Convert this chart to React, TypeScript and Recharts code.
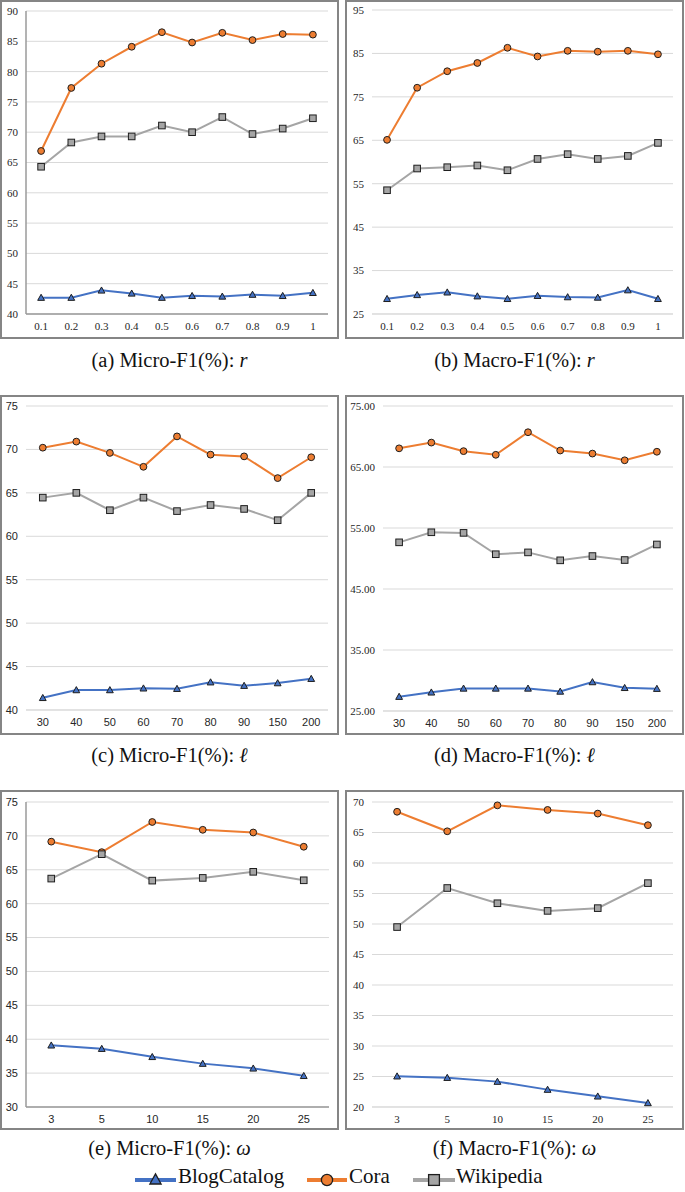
import React from 'react';
import { LineChart, Line, XAxis, YAxis, CartesianGrid } from 'recharts';

// ---------- categories ----------
const rCats = ['0.1', '0.2', '0.3', '0.4', '0.5', '0.6', '0.7', '0.8', '0.9', '1'];
const lCats = ['30', '40', '50', '60', '70', '80', '90', '150', '200'];
const wCats = ['3', '5', '10', '15', '20', '25'];

// ---------- series values ----------
const microR_Blog = [42.7, 42.7, 43.9, 43.4, 42.7, 43.0, 42.9, 43.2, 43.0, 43.5];
const microR_Cora = [66.9, 77.3, 81.3, 84.1, 86.5, 84.8, 86.4, 85.2, 86.2, 86.1];
const microR_Wiki = [64.3, 68.3, 69.3, 69.3, 71.1, 70.0, 72.5, 69.7, 70.6, 72.3];

const macroR_Blog = [28.5, 29.4, 30.0, 29.1, 28.5, 29.2, 28.9, 28.8, 30.5, 28.5];
const macroR_Cora = [65.1, 77.1, 80.9, 82.8, 86.3, 84.3, 85.6, 85.4, 85.6, 84.8];
const macroR_Wiki = [53.5, 58.5, 58.8, 59.2, 58.1, 60.7, 61.8, 60.7, 61.4, 64.4];

const microL_Blog = [41.4, 42.3, 42.3, 42.5, 42.45, 43.2, 42.8, 43.1, 43.6];
const microL_Cora = [70.2, 70.9, 69.6, 68.0, 71.5, 69.4, 69.2, 66.7, 69.1];
const microL_Wiki = [64.45, 65.0, 63.0, 64.45, 62.9, 63.6, 63.15, 61.85, 65.0];

const macroL_Blog = [27.35, 28.06, 28.7, 28.7, 28.7, 28.2, 29.75, 28.8, 28.66];
const macroL_Cora = [68.06, 69.0, 67.6, 67.0, 70.7, 67.7, 67.2, 66.1, 67.5];
const macroL_Wiki = [52.65, 54.3, 54.2, 50.7, 51.0, 49.7, 50.4, 49.75, 52.3];

const microW_Blog = [39.1, 38.6, 37.4, 36.4, 35.7, 34.6];
const microW_Cora = [69.15, 67.6, 72.05, 70.9, 70.5, 68.4];
const microW_Wiki = [63.7, 67.3, 63.4, 63.8, 64.7, 63.45];

const macroW_Blog = [25.04, 24.8, 24.16, 22.85, 21.75, 20.66];
const macroW_Cora = [68.4, 65.2, 69.45, 68.7, 68.1, 66.2];
const macroW_Wiki = [49.5, 55.9, 53.4, 52.15, 52.6, 56.7];

// ---------- tick labels ----------
const ticksA = [40, 45, 50, 55, 60, 65, 70, 75, 80, 85, 90];
const ticksB = [25, 35, 45, 55, 65, 75, 85, 95];
const ticksC = [40, 45, 50, 55, 60, 65, 70, 75];
const ticksD = [25, 35, 45, 55, 65, 75];
const ticksE = [30, 35, 40, 45, 50, 55, 60, 65, 70, 75];
const ticksF = [20, 25, 30, 35, 40, 45, 50, 55, 60, 65, 70];

const seriesNames = ['BlogCatalog', 'Cora', 'Wikipedia'];

const BLUE = '#4472C4';
const ORANGE = '#ED7D31';
const GRAY = '#A5A5A5';
const MARK_STROKE = '#1e1e1e';
const SERIF = "'Liberation Serif', 'Times New Roman', serif";
const SANS = "'Liberation Sans', Arial, sans-serif";

const buildRows = (cats: string[], blog: number[], cora: number[], wiki: number[]) =>
  cats.map((c, i) => ({ x: c, blog: blog[i], cora: cora[i], wiki: wiki[i] }));

const Tri = ({ cx, cy, s = 3.4, sw = 1 }: any) => (
  <path
    d={`M${cx},${cy - s} L${cx + s},${cy + s * 0.8} L${cx - s},${cy + s * 0.8} Z`}
    fill={BLUE}
    stroke={MARK_STROKE}
    strokeWidth={sw}
  />
);
const Circ = ({ cx, cy, r = 3.4, sw = 1 }: any) => (
  <circle cx={cx} cy={cy} r={r} fill={ORANGE} stroke={MARK_STROKE} strokeWidth={sw} />
);
const Sq = ({ cx, cy, s = 3.3, sw = 1 }: any) => (
  <rect x={cx - s} y={cy - s} width={s * 2} height={s * 2} fill={GRAY} stroke={MARK_STROKE} strokeWidth={sw} />
);

type Box = { x: number; y: number; w: number; h: number };
type Plot = { l: number; t: number; r: number; b: number };

const XH = 22;

const Panel = ({
  box,
  plot,
  cats,
  blog,
  cora,
  wiki,
  ticks,
  fmt,
  yFont,
  xFont,
  axis,
  caption,
  capSym,
  capTop,
}: {
  box: Box;
  plot: Plot;
  cats: string[];
  blog: number[];
  cora: number[];
  wiki: number[];
  ticks: number[];
  fmt?: (v: number) => string;
  yFont: string;
  xFont: string;
  axis: boolean;
  caption: string;
  capSym: string;
  capTop: number;
}) => {
  const rows = buildRows(cats, blog, cora, wiki);
  const plotW = plot.r - plot.l;
  const pad = plotW / cats.length / 2;
  const margin = {
    top: plot.t - box.y,
    right: box.x + box.w - plot.r,
    left: 0,
    bottom: box.y + box.h - plot.b - XH,
  };
  const axisColor = axis ? '#9a9a9a' : '#d9d9d9';
  return (
    <>
      <div
        style={{
          position: 'absolute',
          left: box.x,
          top: box.y,
          width: box.w,
          height: box.h,
          boxSizing: 'border-box',
          border: '2px solid #858585',
        }}
      />
      <div style={{ position: 'absolute', left: box.x, top: box.y, fontFamily: yFont }}>
        <LineChart width={box.w} height={box.h} data={rows} margin={margin}>
          <CartesianGrid vertical={false} stroke="#d9d9d9" strokeWidth={1} />
          <XAxis
            dataKey="x"
            type="category"
            padding={{ left: pad, right: pad }}
            tickLine={false}
            axisLine={{ stroke: axisColor, strokeWidth: axis ? 1.5 : 1 }}
            interval={0}
            height={XH}
            tick={{ fontSize: 11, fill: '#262626', style: { fontFamily: xFont } }}
          />
          <YAxis
            type="number"
            domain={[ticks[0], ticks[ticks.length - 1]]}
            ticks={ticks}
            interval={0}
            width={plot.l - box.x}
            tickLine={false}
            axisLine={axis ? { stroke: axisColor, strokeWidth: 1.5 } : false}
            tickFormatter={fmt}
            tick={{ fontSize: 11, fill: '#262626', style: { fontFamily: yFont } }}
          />
          <Line
            dataKey="blog"
            name={seriesNames[0]}
            stroke={BLUE}
            strokeWidth={2}
            isAnimationActive={false}
            dot={(p: any) => <Tri key={`b${p.index}`} cx={p.cx} cy={p.cy} />}
          />
          <Line
            dataKey="cora"
            name={seriesNames[1]}
            stroke={ORANGE}
            strokeWidth={2}
            isAnimationActive={false}
            dot={(p: any) => <Circ key={`c${p.index}`} cx={p.cx} cy={p.cy} />}
          />
          <Line
            dataKey="wiki"
            name={seriesNames[2]}
            stroke={GRAY}
            strokeWidth={2}
            isAnimationActive={false}
            dot={(p: any) => <Sq key={`w${p.index}`} cx={p.cx} cy={p.cy} />}
          />
        </LineChart>
      </div>
      <div
        style={{
          position: 'absolute',
          left: box.x - 10,
          top: capTop,
          width: box.w + 20,
          textAlign: 'center',
          fontFamily: SERIF,
          fontSize: 20.5,
          lineHeight: '20px',
          color: '#111',
          whiteSpace: 'nowrap',
        }}
      >
        {caption}
        <i>{capSym}</i>
      </div>
    </>
  );
};

const Legend = () => {
  const y = 20;
  const items = [
    { x1: 135, x2: 176, color: BLUE, tx: 178, M: Tri, name: seriesNames[0] },
    { x1: 307, x2: 347, color: ORANGE, tx: 349, M: Circ, name: seriesNames[1] },
    { x1: 413, x2: 455, color: GRAY, tx: 456, M: Sq, name: seriesNames[2] },
  ];
  return (
    <svg style={{ position: 'absolute', left: 0, top: 1160, fontFamily: SERIF }} width={685} height={32}>
      {items.map((it, i) => {
        const cx = (it.x1 + it.x2) / 2;
        const M = it.M as any;
        return (
          <g key={i}>
            <line x1={it.x1} y1={y} x2={it.x2} y2={y} stroke={it.color} strokeWidth={4} />
            {i === 0 ? (
              <M cx={cx} cy={y - 0.5} s={5.6} sw={1.3} />
            ) : i === 1 ? (
              <M cx={cx} cy={y} r={5.6} sw={1.3} />
            ) : (
              <M cx={cx} cy={y} s={5.4} sw={1.3} />
            )}
            <text x={it.tx} y={y + 2.5} fontSize={21} fill="#111" style={{ fontFamily: SERIF }}>
              {it.name}
            </text>
          </g>
        );
      })}
    </svg>
  );
};

const fmt2 = (v: number) => v.toFixed(2);

export default function App() {
  return (
    <div style={{ position: 'absolute', left: 0, top: 0, width: 685, height: 1192, background: '#fff' }}>
      <Panel
        box={{ x: 0, y: 0, w: 339, h: 339 }}
        plot={{ l: 26, t: 11, r: 328, b: 314 }}
        cats={rCats}
        blog={microR_Blog}
        cora={microR_Cora}
        wiki={microR_Wiki}
        ticks={ticksA}
        yFont={SERIF}
        xFont={SERIF}
        axis={true}
        caption="(a) Micro-F1(%): "
        capSym="r"
        capTop={350}
      />
      <Panel
        box={{ x: 345, y: 0, w: 339, h: 339 }}
        plot={{ l: 372, t: 10, r: 673, b: 314 }}
        cats={rCats}
        blog={macroR_Blog}
        cora={macroR_Cora}
        wiki={macroR_Wiki}
        ticks={ticksB}
        yFont={SERIF}
        xFont={SERIF}
        axis={false}
        caption="(b) Macro-F1(%): "
        capSym="r"
        capTop={350}
      />
      <Panel
        box={{ x: 0, y: 395, w: 339, h: 340 }}
        plot={{ l: 26, t: 406, r: 328, b: 710 }}
        cats={lCats}
        blog={microL_Blog}
        cora={microL_Cora}
        wiki={microL_Wiki}
        ticks={ticksC}
        yFont={SANS}
        xFont={SANS}
        axis={false}
        caption="(c) Micro-F1(%): "
        capSym="ℓ"
        capTop={745}
      />
      <Panel
        box={{ x: 345, y: 395, w: 339, h: 340 }}
        plot={{ l: 383, t: 406, r: 673, b: 711 }}
        cats={lCats}
        blog={macroL_Blog}
        cora={macroL_Cora}
        wiki={macroL_Wiki}
        ticks={ticksD}
        fmt={fmt2}
        yFont={SERIF}
        xFont={SANS}
        axis={false}
        caption="(d) Macro-F1(%): "
        capSym="ℓ"
        capTop={745}
      />
      <Panel
        box={{ x: 0, y: 790, w: 339, h: 340 }}
        plot={{ l: 26, t: 802, r: 329, b: 1107 }}
        cats={wCats}
        blog={microW_Blog}
        cora={microW_Cora}
        wiki={microW_Wiki}
        ticks={ticksE}
        yFont={SANS}
        xFont={SANS}
        axis={true}
        caption="(e) Micro-F1(%): "
        capSym="ω"
        capTop={1138}
      />
      <Panel
        box={{ x: 345, y: 790, w: 339, h: 340 }}
        plot={{ l: 372, t: 802, r: 673, b: 1107 }}
        cats={wCats}
        blog={macroW_Blog}
        cora={macroW_Cora}
        wiki={macroW_Wiki}
        ticks={ticksF}
        yFont={SERIF}
        xFont={SERIF}
        axis={false}
        caption="(f) Macro-F1(%): "
        capSym="ω"
        capTop={1138}
      />
      <Legend />
    </div>
  );
}
